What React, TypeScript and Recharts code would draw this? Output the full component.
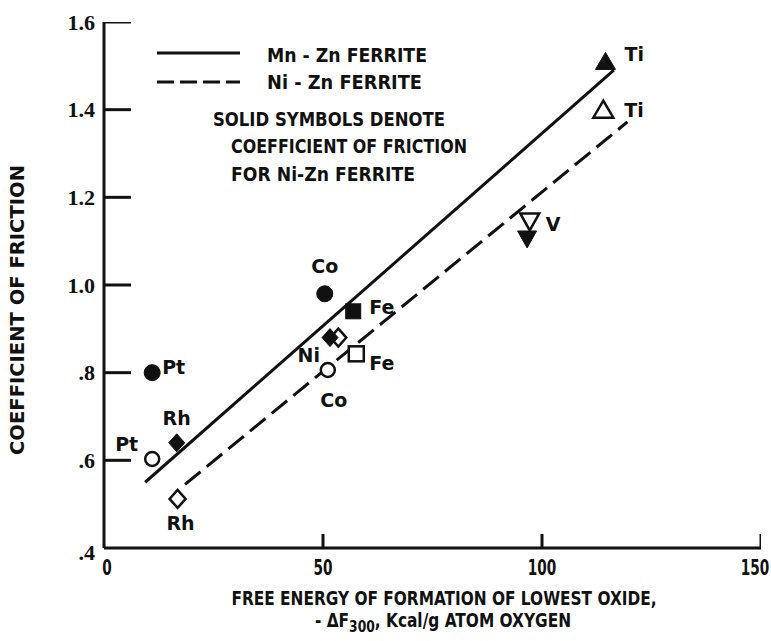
import React from 'react';
import { ScatterChart, Scatter, XAxis, YAxis, ReferenceLine, Customized } from 'recharts';

const metals = ['Pt', 'Rh', 'Co', 'Ni', 'Fe', 'V', 'Ti'];
const symbols = ['circle', 'diamond', 'circle', 'diamond', 'square', 'down', 'up'];

// solid symbols
const solidEnergy = [11, 16.6, 50.4, 51.6, 56.9, 96.6, 114.5];
const solidFriction = [0.8, 0.64, 0.98, 0.88, 0.94, 1.105, 1.51];
// open symbols
const openEnergy = [11, 16.8, 51.1, 53.5, 57.6, 97.2, 114];
const openFriction = [0.603, 0.512, 0.806, 0.88, 0.843, 1.145, 1.4];

// fitted lines
const mnZnFit = [{ x: 9.4, y: 0.55 }, { x: 116.4, y: 1.49 }];
const niZnFit = [{ x: 18.5, y: 0.545 }, { x: 119.5, y: 1.372 }];

const xTicks = [0, 50, 100, 150];
const yTicks = [0.4, 0.6, 0.8, 1.0, 1.2, 1.4, 1.6];

const solidData = metals.map((m, i) => ({ metal: m, symbol: symbols[i], x: solidEnergy[i], y: solidFriction[i] }));
const openData = metals.map((m, i) => ({ metal: m, symbol: symbols[i], x: openEnergy[i], y: openFriction[i] }));
// inward tick marks placed through the chart scales
const xTickData = xTicks.filter((v) => v > 0).map((v) => ({ x: v, y: 0.4 }));
const yTickData = yTicks.filter((v) => v > 0.4).map((v) => ({ x: 0, y: v }));

// label placement next to each marker: dx, dy, anchor
const solidLabels: any = {
  Pt: [10, -6, 'start'],
  Rh: [0, -25, 'middle'],
  Co: [0, -28, 'middle'],
  Ni: [-10, 17, 'end'],
  Fe: [16, -4, 'start'],
  Ti: [19, -7, 'start'],
};
const openLabels: any = {
  Pt: [-14, -15, 'end'],
  Rh: [3, 24, 'middle'],
  Co: [6, 30, 'middle'],
  Fe: [13, 9, 'start'],
  V: [16, 3, 'start'],
  Ti: [21, 0, 'start'],
};

const FONT = "'DejaVu Sans', 'Liberation Sans', sans-serif";
const INK = '#111';
const TM = 8;

function Marker({ cx, cy, payload, filled, labels }: any) {
  const fill = filled ? INK : '#fff';
  const sw = filled ? 1 : 2.5;
  let mark: any = null;
  switch (payload.symbol) {
    case 'circle':
      mark = <circle cx={cx} cy={cy} r={filled ? 8 : 7} fill={fill} stroke={INK} strokeWidth={sw} />;
      break;
    case 'diamond':
      mark = <polygon points={`${cx},${cy - 9} ${cx + 8},${cy} ${cx},${cy + 9} ${cx - 8},${cy}`} fill={fill} stroke={INK} strokeWidth={sw} />;
      break;
    case 'square':
      mark = <rect x={cx - 7.5} y={cy - 7.5} width={15} height={15} fill={fill} stroke={INK} strokeWidth={sw} />;
      break;
    case 'up':
      mark = <polygon points={`${cx},${cy - 9} ${cx + 10},${cy + 8} ${cx - 10},${cy + 8}`} fill={fill} stroke={INK} strokeWidth={sw} />;
      break;
    case 'down':
      mark = <polygon points={`${cx - 9.5},${cy - 8} ${cx + 9.5},${cy - 8} ${cx},${cy + 9}`} fill={fill} stroke={INK} strokeWidth={sw} />;
      break;
  }
  const lp = labels[payload.metal];
  return (
    <g>
      {mark}
      {lp && (
        <text x={cx + lp[0]} y={cy + lp[1]} textAnchor={lp[2]} dominantBaseline="central"
          fontFamily={FONT} fontWeight="bold" fontSize={19} fill={INK}>
          {payload.metal}
        </text>
      )}
    </g>
  );
}

function YTickMark({ cx, cy }: any) {
  return <line x1={cx} y1={cy} x2={cx + 27} y2={cy} stroke={INK} strokeWidth={3} />;
}

function XTickMark({ cx, cy }: any) {
  return <line x1={cx} y1={cy} x2={cx} y2={cy - 14} stroke={INK} strokeWidth={3} />;
}

function YTick({ x, y, payload }: any) {
  const v = payload.value;
  const label = v < 1 ? v.toFixed(1).replace(/^0/, '') : v.toFixed(1);
  return (
    <text x={x - 1} y={v < 0.41 ? y + 4 : y} textAnchor="end" dominantBaseline="central"
      fontFamily="'Liberation Serif', serif" fontWeight="bold" fontSize={22} fill={INK}>
      {label}
    </text>
  );
}

function XTick({ x, y, payload }: any) {
  const v = payload.value;
  const s = String(v);
  return (
    <text x={v === 0 ? x + 3 : v === 150 ? x - 6 : x} y={y + 11} textAnchor="middle" dominantBaseline="central"
      fontFamily={FONT} fontWeight="bold" fontSize={22} fill={INK}
      textLength={s.length * 9.5} lengthAdjust="spacingAndGlyphs">
      {s}
    </text>
  );
}

function Overlay() {
  const t = { fontFamily: FONT, fontWeight: 'bold' as any, fontSize: 20, fill: INK, dominantBaseline: 'central' as any, lengthAdjust: 'spacingAndGlyphs' };
  return (
    <g>
      <line x1={157} y1={53} x2={240} y2={53} stroke={INK} strokeWidth={3} />
      <line x1={157} y1={82} x2={240} y2={82} stroke={INK} strokeWidth={3} strokeDasharray="17 6" />
      <text {...t} x={267} y={55} textLength={160}>Mn - Zn FERRITE</text>
      <text {...t} x={267} y={82} textLength={155}>Ni - Zn FERRITE</text>
      <text {...t} x={213} y={119} textLength={232}>SOLID SYMBOLS DENOTE</text>
      <text {...t} x={231} y={146} textLength={236}>COEFFICIENT OF FRICTION</text>
      <text {...t} x={231} y={174} textLength={184}>FOR Ni-Zn FERRITE</text>
      <text {...t} transform="translate(17,310) rotate(-90)" x={0} y={0} textAnchor="middle" textLength={290}>
        COEFFICIENT OF FRICTION
      </text>
      <text {...t} x={444} y={598} textAnchor="middle" textLength={425}>
        FREE ENERGY OF FORMATION OF LOWEST OXIDE,
      </text>
      <g transform="translate(443,627) scale(0.77,1)">
        <text fontFamily={FONT} fontWeight="bold" fontSize={20} fill={INK} x={0} y={0} textAnchor="middle">
          <tspan>- ΔF</tspan>
          <tspan dy={5} fontSize={16}>300</tspan>
          <tspan dy={-5}>, Kcal/g ATOM OXYGEN</tspan>
        </text>
      </g>
    </g>
  );
}

export default function App() {
  return (
    <div style={{ position: 'absolute', left: 0, top: 0, background: '#fff' }}>
      <ScatterChart width={771} height={641} margin={{ top: 22, right: 10, bottom: 0, left: 0 }}>
        <XAxis type="number" dataKey="x" domain={[0, 150]} ticks={xTicks} height={93}
          axisLine={{ stroke: INK, strokeWidth: 3 }} tickLine={false} tickSize={0} tickMargin={TM}
          tick={<XTick />} interval={0} allowDataOverflow />
        <YAxis type="number" dataKey="y" domain={[0.4, 1.6]} ticks={yTicks} width={104}
          axisLine={{ stroke: INK, strokeWidth: 3 }} tickLine={false} tickSize={0} tickMargin={TM}
          tick={<YTick />} interval={0} allowDataOverflow />
        <ReferenceLine segment={mnZnFit} stroke={INK} strokeWidth={3} ifOverflow="visible" />
        <ReferenceLine segment={niZnFit} stroke={INK} strokeWidth={3} strokeDasharray="20 8" ifOverflow="visible" />
        <Scatter data={xTickData} isAnimationActive={false} shape={(p: any) => <XTickMark {...p} />} />
        <Scatter data={yTickData} isAnimationActive={false} shape={(p: any) => <YTickMark {...p} />} />
        <Scatter data={openData} isAnimationActive={false}
          shape={(p: any) => <Marker {...p} filled={false} labels={openLabels} />} />
        <Scatter data={solidData} isAnimationActive={false}
          shape={(p: any) => <Marker {...p} filled labels={solidLabels} />} />
        <Customized component={<Overlay />} />
      </ScatterChart>
    </div>
  );
}
